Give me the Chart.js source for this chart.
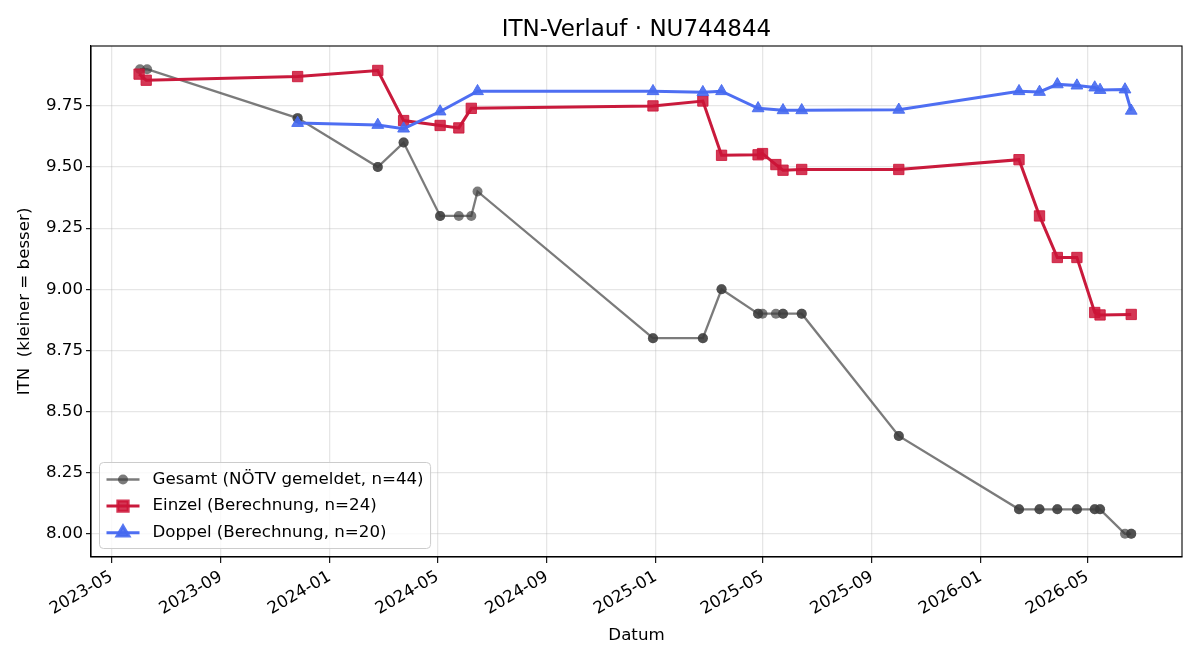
<!DOCTYPE html>
<html>
<head>
<meta charset="utf-8">
<title>ITN-Verlauf</title>
<script src="https://cdn.jsdelivr.net/npm/chart.js@4.4.1/dist/chart.umd.min.js"></script>
<style>
  html, body { margin: 0; padding: 0; background: #fff; }
  #wrap { width: 1200px; height: 660px; }
</style>
</head>
<body>
<div id="wrap"><canvas id="chart" width="1200" height="660"></canvas></div>
<script>
const titleText = 'ITN-Verlauf · NU744844'
const xLabel = 'Datum'
const yLabel = 'ITN  (kleiner = besser)'

// axis ticks and ranges
const xTickLabels = ['2023-05', '2023-09', '2024-01', '2024-05', '2024-09', '2025-01', '2025-05', '2025-09', '2026-01', '2026-05']
const yTicks = [8.00, 8.25, 8.50, 8.75, 9.00, 9.25, 9.50, 9.75]
const xMin = '2023-04-08'
const xMax = '2026-08-15'
const yMin = 7.905
const yMax = 9.995

// Gesamt (reported), repeated dates are two reports on the same day
const gesamtDates = [
  '2023-06-02', '2023-06-10', '2023-11-26', '2023-11-26', '2024-02-24', '2024-02-24',
  '2024-03-24', '2024-03-24', '2024-05-04', '2024-05-04', '2024-05-25', '2024-06-08',
  '2024-06-15', '2024-12-29', '2024-12-29', '2025-02-23', '2025-02-23', '2025-03-16',
  '2025-03-16', '2025-04-26', '2025-04-26', '2025-05-01', '2025-05-16', '2025-05-24',
  '2025-05-24', '2025-06-14', '2025-06-14', '2025-10-01', '2025-10-01', '2026-02-13',
  '2026-02-13', '2026-03-08', '2026-03-08', '2026-03-28', '2026-03-28', '2026-04-19',
  '2026-04-19', '2026-05-09', '2026-05-09', '2026-05-15', '2026-05-15', '2026-06-12',
  '2026-06-19', '2026-06-19'
]
const gesamtValues = [
  9.9, 9.9, 9.7, 9.7, 9.5, 9.5,
  9.6, 9.6, 9.3, 9.3, 9.3, 9.3,
  9.4, 8.8, 8.8, 8.8, 8.8, 9.0,
  9.0, 8.9, 8.9, 8.9, 8.9, 8.9,
  8.9, 8.9, 8.9, 8.4, 8.4, 8.1,
  8.1, 8.1, 8.1, 8.1, 8.1, 8.1,
  8.1, 8.1, 8.1, 8.1, 8.1, 8.0,
  8.0, 8.0
]

// Einzel (calculated)
const einzelDates = [
  '2023-06-01', '2023-06-09', '2023-11-26', '2024-02-24', '2024-03-24', '2024-05-04',
  '2024-05-25', '2024-06-08', '2024-12-29', '2025-02-23', '2025-03-16', '2025-04-26',
  '2025-05-01', '2025-05-16', '2025-05-24', '2025-06-14', '2025-10-01', '2026-02-13',
  '2026-03-08', '2026-03-28', '2026-04-19', '2026-05-09', '2026-05-15', '2026-06-19'
]
const einzelValues = [
  9.88, 9.855, 9.87, 9.895, 9.69, 9.67,
  9.66, 9.74, 9.75, 9.77, 9.548, 9.55,
  9.555, 9.51, 9.487, 9.49, 9.49, 9.53,
  9.30, 9.13, 9.13, 8.905, 8.895, 8.897
]

// Doppel (calculated)
const doppelDates = [
  '2023-11-26', '2024-02-24', '2024-03-24', '2024-05-04', '2024-06-15', '2024-12-29',
  '2025-02-23', '2025-03-16', '2025-04-26', '2025-05-24', '2025-06-14', '2025-10-01',
  '2026-02-13', '2026-03-08', '2026-03-28', '2026-04-19', '2026-05-09', '2026-05-15',
  '2026-06-12', '2026-06-19'
]
const doppelValues = [
  9.68, 9.672, 9.657, 9.727, 9.81, 9.81,
  9.806, 9.81, 9.74, 9.732, 9.732, 9.734,
  9.81, 9.807, 9.838, 9.833, 9.825, 9.815,
  9.817, 9.73
]

const font = 'DejaVu Sans'
const fs = 16.67

function points (dates, values) {
  return dates.map((d, i) => ({ x: Date.parse(d), y: values[i] }))
}

// title, frame and legend drawn on top
const decorations = {
  id: 'decorations',
  afterDraw (chart) {
    const { ctx, chartArea: a } = chart
    ctx.save()

    // title
    ctx.fillStyle = '#000'
    ctx.font = `23px "${font}"`
    ctx.textAlign = 'center'
    ctx.textBaseline = 'alphabetic'
    ctx.fillText(titleText, (a.left + a.right) / 2, 36)

    // frame
    ctx.strokeStyle = '#000'
    ctx.lineWidth = 1.1
    ctx.strokeRect(a.left, a.top, a.right - a.left, a.bottom - a.top)

    // legend
    const sets = chart.data.datasets
    ctx.font = `${fs}px "${font}"`
    const textW = Math.max(...sets.map(s => ctx.measureText(s.label).width))
    const x0 = a.left + 8.5
    const rowH = 26.6
    const bottom = a.bottom - 8.5
    const h = 86
    const top = bottom - h
    const w = 53 + textW + 7
    const r = 4
    ctx.beginPath()
    ctx.moveTo(x0 + r, top)
    ctx.arcTo(x0 + w, top, x0 + w, bottom, r)
    ctx.arcTo(x0 + w, bottom, x0, bottom, r)
    ctx.arcTo(x0, bottom, x0, top, r)
    ctx.arcTo(x0, top, x0 + w, top, r)
    ctx.closePath()
    ctx.fillStyle = 'rgba(255,255,255,0.8)'
    ctx.fill()
    ctx.strokeStyle = '#cccccc'
    ctx.lineWidth = 1
    ctx.stroke()

    sets.forEach((s, i) => {
      const y = top + 17 + i * rowH
      ctx.strokeStyle = s.borderColor
      ctx.lineWidth = s.borderWidth
      ctx.beginPath()
      ctx.moveTo(x0 + 7, y)
      ctx.lineTo(x0 + 40, y)
      ctx.stroke()
      ctx.fillStyle = s.pointBackgroundColor
      ctx.strokeStyle = s.pointBorderColor
      Chart.helpers.drawPoint(ctx, { pointStyle: s.pointStyle, radius: s.pointRadius, rotation: 0, borderWidth: s.pointBorderWidth }, x0 + 23.5, y)
      ctx.fillStyle = '#000'
      ctx.textAlign = 'left'
      ctx.textBaseline = 'middle'
      ctx.fillText(s.label, x0 + 53, y)
    })
    ctx.restore()
  }
}

const gridColor = 'rgba(176,176,176,0.32)'

new Chart(document.querySelector('#chart'), {
  type: 'line',
  data: {
    datasets: [
      {
        label: 'Gesamt (NÖTV gemeldet, n=44)',
        data: points(gesamtDates, gesamtValues),
        borderColor: 'rgba(60,60,60,0.68)',
        borderWidth: 2.3,
        pointStyle: 'circle',
        pointRadius: 5,
        pointBackgroundColor: 'rgba(60,60,60,0.68)',
        pointBorderColor: 'rgba(60,60,60,0)',
        pointBorderWidth: 0,
        order: 3
      },
      {
        label: 'Einzel (Berechnung, n=24)',
        data: points(einzelDates, einzelValues),
        borderColor: '#c91a3c',
        borderWidth: 3,
        pointStyle: 'rect',
        pointRadius: 7.3,
        pointBackgroundColor: 'rgba(205,20,55,0.85)',
        pointBorderColor: 'rgba(205,20,55,0.85)',
        pointBorderWidth: 1,
        order: 2
      },
      {
        label: 'Doppel (Berechnung, n=20)',
        data: points(doppelDates, doppelValues),
        borderColor: '#4e6ef2',
        borderWidth: 3,
        pointStyle: 'triangle',
        pointRadius: 6.8,
        pointBackgroundColor: 'rgba(70,105,240,0.9)',
        pointBorderColor: 'rgba(70,105,240,0.9)',
        pointBorderWidth: 1,
        order: 1
      }
    ]
  },
  options: {
    responsive: false,
    animation: false,
    devicePixelRatio: 1,
    layout: { padding: { top: 46, right: 18, left: 0, bottom: 0 } },
    plugins: {
      legend: { display: false },
      title: { display: false },
      tooltip: { enabled: false }
    },
    scales: {
      x: {
        type: 'linear',
        min: Date.parse(xMin),
        max: Date.parse(xMax),
        afterBuildTicks: axis => { axis.ticks = xTickLabels.map(l => ({ value: Date.parse(l + '-01') })) },
        afterFit: s => { s.height = 103 },
        ticks: {
          callback: (v, i) => xTickLabels[i],
          autoSkip: false,
          minRotation: 30,
          maxRotation: 30,
          padding: 4,
          color: '#000',
          font: { family: font, size: fs }
        },
        grid: { color: gridColor, lineWidth: 1.3, tickLength: 6, tickColor: '#000', tickWidth: 1.1 },
        border: { display: true, color: '#000', width: 1.1 },
        title: { display: true, text: xLabel, color: '#000', font: { family: font, size: fs }, padding: { top: 0, bottom: 14 } }
      },
      y: {
        min: yMin,
        max: yMax,
        afterBuildTicks: axis => { axis.ticks = yTicks.map(v => ({ value: v })) },
        afterFit: s => { s.width = 91 },
        ticks: {
          callback: v => v.toFixed(2),
          padding: 3,
          color: '#000',
          font: { family: font, size: fs }
        },
        grid: { color: gridColor, lineWidth: 1.3, tickLength: 5, tickColor: '#000', tickWidth: 1.1 },
        border: { display: true, color: '#000', width: 1.1 },
        title: { display: true, text: yLabel, color: '#000', font: { family: font, size: fs }, padding: { top: 15, bottom: 0 } }
      }
    }
  },
  plugins: [decorations]
})
</script>
</body>
</html>
